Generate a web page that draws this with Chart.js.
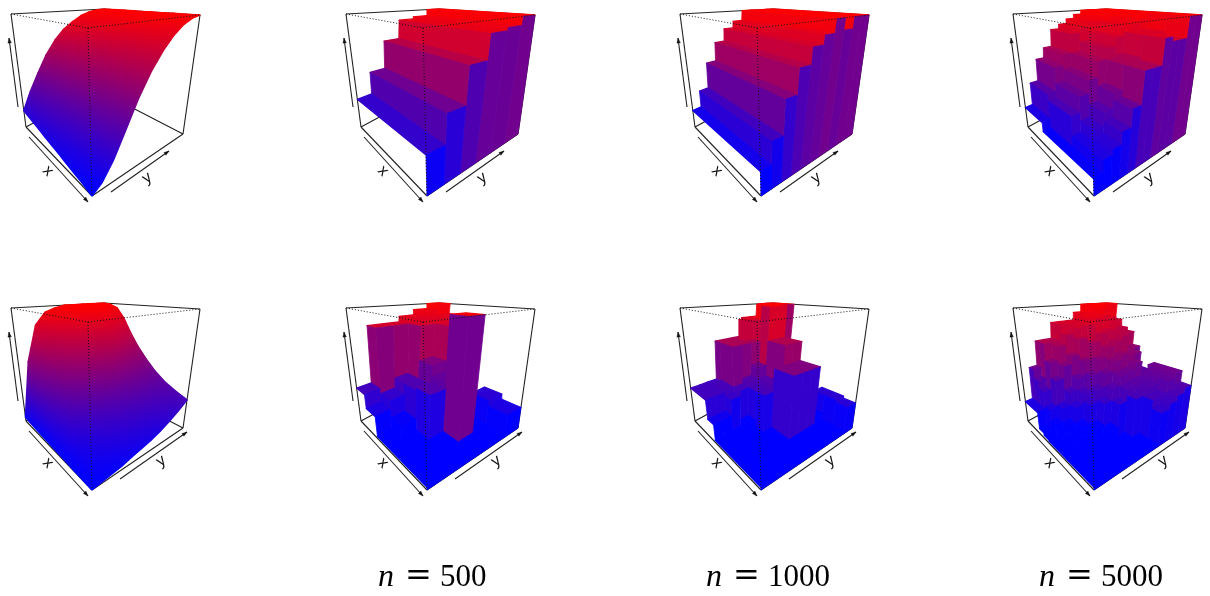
<!DOCTYPE html>
<html><head><meta charset="utf-8">
<script src="https://cdn.jsdelivr.net/npm/chart.js@4"></script>
<style>html,body{margin:0;padding:0;background:#fff;width:1210px;height:596px;overflow:hidden}canvas{position:absolute}</style>
</head><body>
<script>
// heights: rows run along x (front corner -> left corner), columns along y (front corner -> right corner)
const copulaTrue=[
[0,.05,.16,.33,.52,.68,.80,.89,.95,.985,1],
[.02,.08,.20,.37,.55,.70,.81,.90,.95,.985,1],
[.035,.11,.24,.40,.57,.72,.83,.90,.955,.99,1],
[.05,.14,.27,.43,.59,.73,.84,.91,.96,.99,1],
[.07,.17,.30,.46,.61,.75,.85,.92,.96,.99,1],
[.085,.20,.33,.49,.64,.77,.86,.92,.965,.99,1],
[.10,.23,.36,.52,.66,.78,.87,.93,.97,.99,1],
[.12,.25,.39,.55,.68,.80,.88,.93,.97,.99,1],
[.135,.28,.42,.57,.70,.81,.89,.94,.975,.99,1],
[.15,.30,.45,.60,.73,.83,.89,.94,.98,.995,1],
[.17,.33,.48,.63,.75,.84,.90,.95,.98,.995,1]];
const densityTrue=[
[0,.01,.02,.03,.05,.07,.09,.12,.16,.21,.27],
[.003,.04,.07,.10,.13,.16,.19,.22,.25,.28,.31],
[.006,.07,.12,.17,.21,.25,.28,.31,.33,.35,.36],
[.01,.10,.18,.25,.31,.36,.40,.42,.43,.43,.43],
[.013,.14,.26,.36,.45,.52,.56,.58,.57,.55,.52],
[.017,.19,.36,.50,.61,.69,.74,.76,.73,.68,.62],
[.02,.24,.46,.63,.75,.84,.88,.88,.85,.80,.74],
[.025,.30,.57,.76,.87,.94,.97,.97,.95,.92,.87],
[.03,.37,.68,.86,.94,.98,1,1,.99,.98,.96],
[.035,.46,.78,.92,.97,1,1,1,1,1,.99],
[.04,.55,.85,.95,.98,1,1,1,1,1,1]];
const hist500Top=[
[.28,.49,.75,.92,.94,1],[.28,.49,.75,.92,.94,1],[.28,.49,.75,.92,.94,1],
[.28,.49,.75,.92,.94,1],[.28,.49,.75,.92,.94,1],[.28,.49,.75,.92,.94,1]];
const hist1000Top=[
[.17,.33,.57,.74,.85,.91,1,.92,1,1],[.17,.33,.57,.74,.85,.91,1,1,1,1],
[.17,.33,.57,.74,.85,.91,1,1,1,1],[.17,.33,.57,.74,.85,.91,1,1,1,1],
[.17,.33,.57,.74,.85,.91,1,1,1,1],[.17,.33,.57,.74,.85,.91,1,1,1,1],
[.17,.33,.57,.74,.85,.91,1,1,1,1],[.17,.33,.57,.74,.85,.91,1,1,1,1],
[.17,.33,.57,.74,.85,.91,1,1,1,1],[.17,.33,.57,.74,.85,.91,1,1,1,1]];
const hist5000Top=[
[.12,.21,.25,.34,.47,.70,.70,.88,.85,.85,1,1],
[.12,.21,.25,.34,.47,.70,.70,.88,.85,.85,1,1],
[.12,.21,.30,.40,.52,.70,.72,.88,.85,.88,1,1],
[.12,.21,.30,.40,.52,.70,.72,.88,.85,.88,1,1],
[.12,.36,.48,.58,.70,.78,.85,.93,.93,.96,1,1],
[.12,.36,.48,.58,.70,.78,.85,.93,.93,.96,1,1],
[.12,.36,.48,.58,.70,.78,.85,.93,.93,.96,1,1],
[.12,.36,.48,.58,.70,.78,.85,.93,.93,.96,1,1],
[.20,.41,.61,.70,.85,.89,.93,.965,1,1,1,1],
[.20,.41,.61,.70,.85,.89,.93,.965,1,1,1,1],
[.20,.41,.61,.70,.85,.89,.93,.965,1,1,1,1],
[.20,.41,.61,.70,.85,.89,.93,.965,1,1,1,1]];
const hist500Bot=[
[.02,.02,.02,.02,.02,.20],
[.02,.02,.02,.97,.02,.25],
[.02,.02,.40,.45,.02,.10],
[.02,.12,.38,.55,.85,.10],
[.20,.28,.38,.85,.90,.90],
[.33,.85,.85,.90,.95,1]];
const hist1000Bot=[
[.02,.02,.02,.02,.02,.02,.02,.02,.02,.24],
[.02,.02,.02,.02,.02,.02,.02,.02,.02,.26],
[.02,.02,.02,.02,.02,.55,.55,.55,.08,.26],
[.02,.02,.02,.02,.02,.55,.55,.55,.08,.18],
[.02,.02,.02,.02,.35,.40,.72,.72,.12,.15],
[.02,.02,.02,.08,.35,.40,.72,.72,.45,.14],
[.16,.16,.30,.35,.40,.50,1,1,.45,.30],
[.33,.33,.35,.70,.70,.70,.88,1,1,1],
[.33,.33,.35,.70,.70,.88,.88,1,1,1],
[.33,.33,.33,.70,.70,.70,.88,.88,1,1]];
const hist5000Bot=[
[.02,.02,.02,.02,.02,.02,.02,.02,.28,.32,.36,.40],
[.02,.02,.02,.02,.02,.02,.02,.02,.35,.35,.45,.50],
[.02,.02,.02,.02,.02,.02,.02,.35,.38,.40,.45,.50],
[.02,.02,.02,.02,.02,.10,.30,.40,.42,.42,.45,.50],
[.02,.02,.05,.08,.12,.30,.40,.48,.50,.55,.42,.42],
[.02,.05,.08,.12,.28,.38,.50,.58,.62,.60,.60,.42],
[.02,.08,.12,.25,.35,.48,.60,.68,.72,.75,.62,.62],
[.03,.12,.24,.35,.45,.58,.72,.78,.80,.78,.72,.75],
[.05,.22,.45,.55,.62,.75,.85,.90,.92,.88,.72,.78],
[.20,.35,.58,.70,.78,.82,.90,.95,.97,.96,.88,.85],
[.20,.42,.72,.72,.86,.86,.86,.93,1,1,1,1],
[.20,.50,.72,.72,.86,.86,.86,.93,1,1,1,1]];
const captions=["n = 500","n = 1000","n = 5000"];
const captionStarts=[43,37,37];
const axisLabels=["x","y"];

// --- view settings ---
const BOX={bf:[92,196],bl:[26,127],br:[183,134],bb:[96,89],tf:[88,28],tl:[11,14],tr:[200,15],tb:[104,9]};
const W_BOTTOM=1.2;
const COLS=[0,335,669,1002], ROWS=[0,294], CW=[335,334,333,208], RH=[294,302];
const PANELS=[
 {g:copulaTrue,kind:'surface',c:0,r:0},{g:hist500Top,kind:'hist',c:1,r:0},{g:hist1000Top,kind:'hist',c:2,r:0},{g:hist5000Top,kind:'hist',c:3,r:0},
 {g:densityTrue,kind:'surface',c:0,r:1},{g:hist500Bot,kind:'hist',c:1,r:1,cap:0},{g:hist1000Bot,kind:'hist',c:2,r:1,cap:1},{g:hist5000Bot,kind:'hist',c:3,r:1,cap:2}];

function homography(p00,p10,p11,p01){ // unit square (u,v) -> quad
  const [x0,y0]=p00,[x1,y1]=p10,[x2,y2]=p11,[x3,y3]=p01;
  const dx1=x1-x2,dx2=x3-x2,sx=x0-x1+x2-x3,dy1=y1-y2,dy2=y3-y2,sy=y0-y1+y2-y3;
  const den=dx1*dy2-dx2*dy1;
  const g=(sx*dy2-dx2*sy)/den,h=(dx1*sy-sx*dy1)/den;
  const a=x1-x0+g*x1,b=x3-x0+h*x3,d=y1-y0+g*y1,e=y3-y0+h*y3;
  return (u,v)=>{const w=g*u+h*v+1;return [(a*u+b*v+x0)/w,(d*u+e*v+y0)/w];};
}
const floorH=homography(BOX.bf,BOX.bl,BOX.bb,BOX.br), topH=homography(BOX.tf,BOX.tl,BOX.tb,BOX.tr);
function proj(u,v,z){
  const a=floorH(u,v),b=topH(u,v),wa=(1-z)*W_BOTTOM,wb=z,s=wa+wb;
  return {x:(a[0]*wa+b[0]*wb)/s,y:(a[1]*wa+b[1]*wb)/s};
}
const rgb=t=>{t=Math.min(1,Math.max(0,t));return `rgb(${Math.round(255*t)},0,${Math.round(255*(1-t))})`;};
const histColor=z=>rgb((z-.1)/.9);
const base={type:'line',pointRadius:0,pointHitRadius:0,tension:0,clip:false};
function poly(points,color,bw){return {...base,data:points.concat([points[0]]),fill:'shape',backgroundColor:color,borderColor:color,borderWidth:bw===undefined?.8:bw,borderJoinStyle:'round'};}
function line(points,color,width,dash){return {...base,data:points,fill:false,borderColor:color,borderWidth:width,borderDash:dash||[],backgroundColor:'transparent'};}

function quadGradient(P,Z){
  const dx1=P[2].x-P[0].x,dy1=P[2].y-P[0].y,dz1=Z[2]-Z[0],dx2=P[3].x-P[1].x,dy2=P[3].y-P[1].y,dz2=Z[3]-Z[1];
  const det=dx1*dy2-dx2*dy1;
  const mean=(Z[0]+Z[1]+Z[2]+Z[3])/4;
  if(Math.abs(det)<1e-6) return rgb(mean);
  const a=(dz1*dy2-dz2*dy1)/det,b=(dx1*dz2-dx2*dz1)/det,n=a*a+b*b;
  if(n<1e-9) return rgb(mean);
  const cx=(P[0].x+P[1].x+P[2].x+P[3].x)/4,cy=(P[0].y+P[1].y+P[2].y+P[3].y)/4;
  const lo=Math.max(0,Math.min(...Z)),hi=Math.min(1,Math.max(...Z));
  const p0={x:cx+a*(lo-mean)/n,y:cy+b*(lo-mean)/n},p1={x:cx+a*(hi-mean)/n,y:cy+b*(hi-mean)/n};
  return (ctx)=>{
    const c=ctx.chart,s=c.scales;
    if(!s.x||!c.chartArea) return rgb(mean);
    const g=c.ctx.createLinearGradient(s.x.getPixelForValue(p0.x),s.y.getPixelForValue(p0.y),s.x.getPixelForValue(p1.x),s.y.getPixelForValue(p1.y));
    g.addColorStop(0,rgb(lo));g.addColorStop(1,rgb(hi));return g;
  };
}
function surfaceSets(g){
  const out=[],nu=g.length-1,nv=g[0].length-1;
  for(let i=nu-1;i>=0;i--)for(let j=nv-1;j>=0;j--){
    const u0=i/nu,u1=(i+1)/nu,v0=j/nv,v1=(j+1)/nv;
    const Z=[g[i][j],g[i+1][j],g[i+1][j+1],g[i][j+1]];
    const P=[proj(u0,v0,Z[0]),proj(u1,v0,Z[1]),proj(u1,v1,Z[2]),proj(u0,v1,Z[3])];
    out.push(poly(P,quadGradient(P,Z),1.5));
  }
  return out;
}
function histSets(g){
  // column by column from the far side: equal neighbours merge into one facet.
  // The outer face along x (column 0) is open, as in the reference.
  const out=[],nu=g.length,nv=g[0].length;
  for(let j=nv-1;j>=0;j--){
    const v0=j/nv,v1=(j+1)/nv;
    for(let i=nu-1;i>=0;){
      const z=g[i][j];let k=i;
      while(k>0&&g[k-1][j]===z)k--;
      const u0=k/nu,u1=(i+1)/nu,hu=k>0?g[k-1][j]:0;
      out.push(poly([proj(u0,v0,z),proj(u1,v0,z),proj(u1,v1,z),proj(u0,v1,z)],histColor(z),1.3));
      if(z>hu) out.push(poly([proj(u0,v0,hu),proj(u0,v1,hu),proj(u0,v1,z),proj(u0,v0,z)],histColor((z+hu)/2)));
      i=k-1;
    }
    if(j>0){
      for(let i=nu-1;i>=0;){
        const z=g[i][j],hv=g[i][j-1];let k=i;
        while(k>0&&g[k-1][j]===z&&g[k-1][j-1]===hv)k--;
        if(z>hv) out.push(poly([proj(k/nu,v0,hv),proj((i+1)/nu,v0,hv),proj((i+1)/nu,v0,z),proj(k/nu,v0,z)],histColor((z+hv)/2)));
        i=k-1;
      }
    }
  }
  return out;
}
const pt=a=>({x:a[0],y:a[1]});
function frameBack(){
  const L='#222';
  return [[BOX.tl,BOX.bl],[BOX.tr,BOX.br],[BOX.tl,BOX.tb],[BOX.tb,BOX.tr],[BOX.bl,BOX.bf],[BOX.bf,BOX.br],[BOX.bl,BOX.bb],[BOX.bb,BOX.br],[BOX.tb,BOX.bb]].map(e=>line(e.map(pt),L,1.1));
}
function frameFront(){
  return [[BOX.tl,BOX.tf],[BOX.tf,BOX.tr],[BOX.tf,BOX.bf]].map(e=>line(e.map(pt),'#111',1,[1,2]));
}
function arrow(from,to){
  const dx=to[0]-from[0],dy=to[1]-from[1],l=Math.hypot(dx,dy),ux=dx/l,uy=dy/l,s=5,w=1.8;
  return [line([pt(from),pt(to)],'#222',1.1),
    poly([pt(to),{x:to[0]-ux*s-uy*w,y:to[1]-uy*s+ux*w},{x:to[0]-ux*s+uy*w,y:to[1]-uy*s-ux*w}],'#111',.3)];
}
const ARROWS=[
 {z:[[18,107],[9,38]],x:[[29,137],[88,202]],y:[[111,192],[169,151]],xl:[48,171],yl:[147,178]},
 {z:[[18,107],[9,38]],x:[[29,137],[88,202]],y:[[120,185],[187,138]],xl:[48,169],yl:[161,167]}];

const labelPlugin={id:'labels',afterDatasetsDraw(chart,args,opts){
  const c=chart.ctx,s=chart.scales,A=ARROWS[opts.row];
  c.save();c.fillStyle='#111';c.textAlign='center';c.textBaseline='middle';c.font='16px "Liberation Sans"';
  [[axisLabels[0],A.xl,0.8],[axisLabels[1],A.yl,-0.6]].forEach(([t,p,r])=>{
    c.save();c.translate(s.x.getPixelForValue(p[0]),s.y.getPixelForValue(p[1]));c.rotate(r);c.fillText(t,0,0);c.restore();});
  if(opts.cap!==undefined){
    const parts=captions[opts.cap].split(' ');
    const x=s.x.getPixelForValue(captionStarts[opts.cap]),cy=s.y.getPixelForValue(292);
    c.textAlign='left';c.textBaseline='alphabetic';c.fillStyle='#000';
    c.font='italic 32px "Liberation Serif"';c.fillText(parts[0],x,cy);
    c.font='32px "DejaVu Serif"';c.fillText(parts[1],x+27,cy-1);
    c.font='31px "Liberation Serif"';c.fillText(parts[2],x+62,cy);
  }
  c.restore();
}};

PANELS.forEach(p=>{
  const cv=document.createElement('canvas');
  const w=CW[p.c],h=RH[p.r];
  cv.width=w;cv.height=h;cv.style.left=COLS[p.c]+'px';cv.style.top=ROWS[p.r]+'px';cv.style.width=w+'px';cv.style.height=h+'px';
  document.body.appendChild(cv);
  const A=ARROWS[p.r];
  // painted in order; Chart.js paints the last dataset first, so the list is reversed
  const painted=[...frameBack(),...(p.kind==='surface'?surfaceSets(p.g):histSets(p.g)),...frameFront(),...arrow(A.z[0],A.z[1]),...arrow(A.x[0],A.x[1]),...arrow(A.y[0],A.y[1])];
  new Chart(cv,{type:'line',data:{datasets:painted.reverse()},plugins:[labelPlugin],options:{
    responsive:false,animation:false,devicePixelRatio:1,events:[],layout:{padding:0},
    scales:{x:{type:'linear',display:false,min:0,max:w},y:{type:'linear',display:false,min:0,max:h,reverse:true}},
    plugins:{legend:{display:false},tooltip:{enabled:false},filler:{drawTime:'beforeDatasetDraw'},labels:{row:p.r,cap:p.cap}}
  }});
});
</script>
</body></html>
